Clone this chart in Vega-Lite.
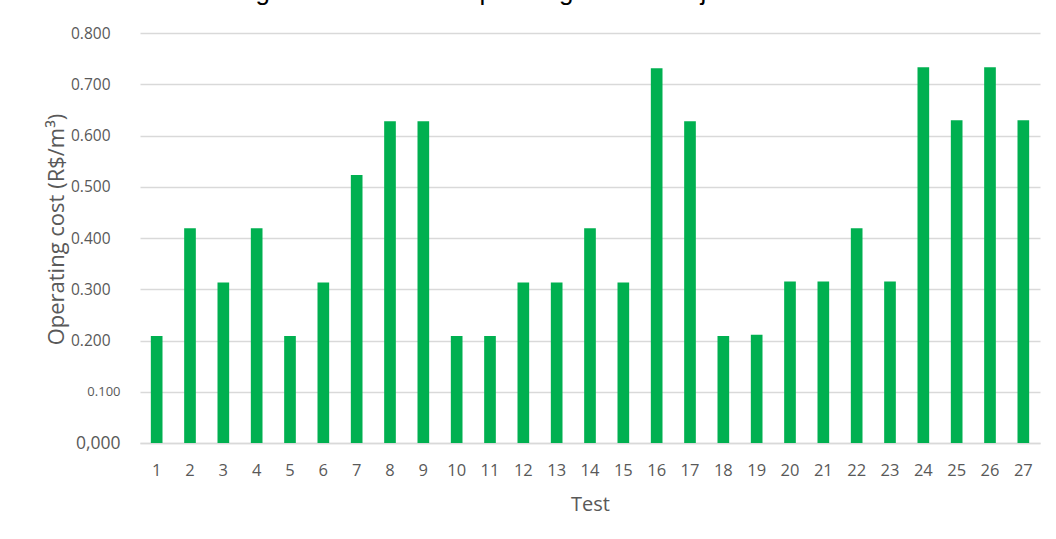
{
  "$schema": "https://vega.github.io/schema/vega-lite/v6.json",
  "width": 900,
  "height": 410,
  "autosize": {"type": "none"},
  "padding": {"left": 140, "top": 33, "right": 16, "bottom": 96},
  "background": "white",
  "title": {
    "text": "Figure 12. Process Operating Costs Subject to 5 Volt",
    "font": "Liberation Sans",
    "fontSize": 26,
    "fontWeight": "normal",
    "color": "#000000",
    "anchor": "middle",
    "baseline": "alphabetic",
    "offset": 0,
    "dx": -52
  },
  "data": {
    "values": [
      {"test": 1, "cost": 0.209},
      {"test": 2, "cost": 0.419},
      {"test": 3, "cost": 0.313},
      {"test": 4, "cost": 0.419},
      {"test": 5, "cost": 0.209},
      {"test": 6, "cost": 0.313},
      {"test": 7, "cost": 0.523},
      {"test": 8, "cost": 0.628},
      {"test": 9, "cost": 0.628},
      {"test": 10, "cost": 0.209},
      {"test": 11, "cost": 0.209},
      {"test": 12, "cost": 0.313},
      {"test": 13, "cost": 0.313},
      {"test": 14, "cost": 0.419},
      {"test": 15, "cost": 0.313},
      {"test": 16, "cost": 0.731},
      {"test": 17, "cost": 0.628},
      {"test": 18, "cost": 0.209},
      {"test": 19, "cost": 0.211},
      {"test": 20, "cost": 0.315},
      {"test": 21, "cost": 0.315},
      {"test": 22, "cost": 0.419},
      {"test": 23, "cost": 0.315},
      {"test": 24, "cost": 0.733},
      {"test": 25, "cost": 0.630},
      {"test": 26, "cost": 0.733},
      {"test": 27, "cost": 0.630}
    ]
  },
  "mark": {"type": "bar", "color": "#00B050"},
  "encoding": {
    "x": {
      "field": "test",
      "type": "ordinal",
      "sort": null,
      "scale": {"paddingInner": 0.65, "paddingOuter": 0.325},
      "axis": {
        "title": "Test",
        "labelAngle": 0,
        "labelFont": "Open Sans",
        "labelFontSize": 16.5,
        "labelColor": "#595959",
        "labelPadding": 19,
        "ticks": false,
        "domain": true,
        "domainColor": "#d9d9d9",
        "domainWidth": 1.5,
        "titleFont": "Open Sans",
        "titleFontSize": 20,
        "titleFontWeight": "normal",
        "titleColor": "#595959",
        "titlePadding": 16
      }
    },
    "y": {
      "field": "cost",
      "type": "quantitative",
      "scale": {"domain": [0, 0.8], "nice": false},
      "axis": {
        "title": "Operating cost (R$/m³)",
        "values": [0, 0.1, 0.2, 0.3, 0.4, 0.5, 0.6, 0.7, 0.8],
        "labelExpr": "datum.value == 0 ? '0,000' : format(datum.value, '.3f')",
        "labelFont": "Open Sans",
        "labelFontSize": {"condition": [{"test": "datum.value == 0", "value": 17.5}, {"test": "datum.value == 0.1", "value": 13}], "value": 15.5},
        "labelPadding": {"condition": {"test": "datum.value <= 0.1", "value": 20}, "value": 30},
        "labelColor": "#595959",
        "ticks": false,
        "domain": false,
        "grid": true,
        "gridColor": "#d9d9d9",
        "gridWidth": 1.5,
        "titleFont": "Open Sans",
        "titleFontSize": 22,
        "titleFontWeight": "normal",
        "titleColor": "#595959",
        "titlePadding": 2,
        "titleY": 196
      }
    }
  },
  "config": {"view": {"stroke": null}}
}
